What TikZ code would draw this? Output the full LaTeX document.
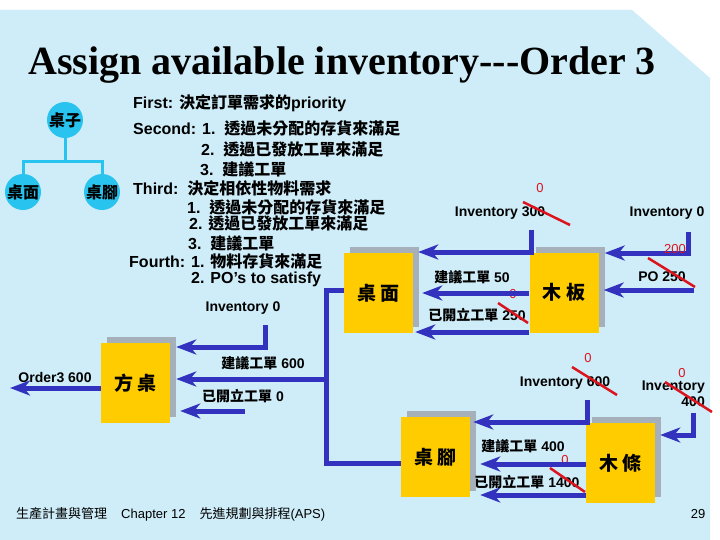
\documentclass[tikz,border=0pt]{standalone}
\usepackage{fontspec}
\setmainfont{Liberation Sans}
\newfontfamily\titlefont{Liberation Serif}
\newfontfamily\cjk{Noto Sans CJK TC}
\usetikzlibrary{arrows.meta,shadows}
\newcommand\zh[1]{{\cjk #1}}
\definecolor{bgblue}{RGB}{206,237,248}
\definecolor{boxyellow}{RGB}{255,204,0}
\definecolor{shadowgray}{RGB}{166,176,186}
\definecolor{flowblue}{RGB}{50,50,190}
\definecolor{strikered}{RGB}{220,20,30}
\definecolor{treecyan}{RGB}{40,195,238}
\tikzset{
  box/.style={fill=boxyellow, minimum width=69pt, minimum height=80pt, inner sep=0pt,
    general shadow={fill=shadowgray, shadow xshift=6pt, shadow yshift=6pt},
    font=\cjk\bfseries\fontsize{19}{19}\selectfont},
  flow/.style={draw=flowblue, line width=5pt, -{Stealth[length=20pt,width=15pt,inset=6pt]}},
  trunk/.style={draw=flowblue, line width=5pt},
  lbl/.style={font=\bfseries\fontsize{14}{16}\selectfont, inner sep=0pt},
  txt/.style={font=\bfseries\fontsize{16}{20}\selectfont, anchor=west, inner sep=0pt},
  redn/.style={text=strikered, font=\fontsize{13}{13}\selectfont, inner sep=0pt},
  strike/.style={draw=strikered, line width=2.5pt},
  treec/.style={circle, fill=treecyan, minimum size=36pt, inner sep=0pt,
    font=\cjk\bfseries\fontsize{16}{16}\selectfont},
  treel/.style={draw=treecyan, line width=3pt},
}
\begin{document}
\begin{tikzpicture}[x=1pt,y=-1pt]
\useasboundingbox (0,0) rectangle (720,540);
\fill[white] (0,0) rectangle (720,540);
\fill[bgblue] (0,10) -- (632,10) -- (710,78) -- (710,540) -- (0,540) -- cycle;

% title
\node[anchor=base west, inner sep=0pt, font=\titlefont\bfseries\fontsize{40}{40}\selectfont] (title) at (28,75) {Assign available inventory---Order 3};

% tree
\node[treec] (tz) at (65,120) {桌子};
\node[treec] (tm) at (23,192) {桌面};
\node[treec] (tj) at (102,192) {桌腳};
\coordinate (tb) at (65,162);
\draw[treel] (tz.south) -- (tb);
\draw[treel] (tm.north) -- (tm.north |- tb) -- (tj.north |- tb) -- (tj.north);

% text block
\node[txt] (t1) at (133,103) {First: \zh{決定訂單需求的}priority};
\node[txt] (t2) at (133,128) {Second: 1.\ \ \zh{透過未分配的存貨來滿足}};
\node[txt] (t3) at (201,149) {2.\ \ \zh{透過已發放工單來滿足}};
\node[txt] (t4) at (200,169) {3.\ \ \zh{建議工單}};
\node[txt] (t5) at (133,188) {Third:\ \ \zh{決定相依性物料需求}};
\node[txt] (t6) at (187,207) {1.\ \ \zh{透過未分配的存貨來滿足}};
\node[txt] (t7) at (189,223) {2. \zh{透過已發放工單來滿足}};
\node[txt] (t8) at (188,243) {3.\ \ \zh{建議工單}};
\node[txt] (t9) at (129,261) {Fourth: 1. \zh{物料存貨來滿足}};
\node[txt] (t10) at (191,279) {2. PO’s to satisfy};

% boxes
\node[box] (fz) at (135.5,383) {方 桌};
\node[box] (zm) at (378.5,293) {桌 面};
\node[box] (mb) at (564,292.5) {木 板};
\node[box] (zj) at (435.5,457) {桌 腳};
\node[box] (mt) at (620.5,463) {木 條};

% red numbers hidden partly under arrows
\node[redn] (r3) at (513,294) {0};
\node[redn] (r6) at (565,460) {0};

% free ends
\coordinate (o3) at (10,388);
\coordinate (inv0) at (265,325);
\coordinate (tr1) at (326,290);
\coordinate (tr2) at (326,463);
\coordinate (a0) at (245,411);
\coordinate (i300) at (531,230);
\coordinate (i0r) at (688,232);
\coordinate (po) at (694,290);
\coordinate (i600) at (587,400);
\coordinate (i400) at (693,413);

% connectors
\draw[flow] (fz.west |- o3) -- (o3);
\draw[flow] (inv0) |- ([xshift=6pt]fz.east |- 0,347);
\draw[trunk] (zm.west |- tr1) -- (tr1) -- (tr2) -- (zj.west |- tr2);
\draw[flow] (tr1 |- 0,379) -- ([xshift=6pt]fz.east |- 0,379);
\draw[flow] (a0) -- ([xshift=10pt]fz.east |- a0);
\draw[flow] (i300) |- ([xshift=5pt]zm.east |- 0,252);
\draw[flow] (i0r) |- ([xshift=6pt]mb.east |- 0,253);
\draw[flow] (po) -- ([xshift=5pt]mb.east |- po);
\draw[flow] (mb.west |- 0,293) -- ([xshift=9pt]zm.east |- 0,293);
\draw[flow] (mb.west |- 0,332) -- ([xshift=2pt]zm.east |- 0,332);
\draw[flow] (i600) |- ([xshift=3pt]zj.east |- 0,422);
\draw[flow] (i400) |- ([xshift=5pt]mt.east |- 0,435);
\draw[flow] (mt.west |- 0,464) -- ([xshift=10pt]zj.east |- 0,464);
\draw[flow] (mt.west |- 0,495) -- ([xshift=10pt]zj.east |- 0,495);

% labels
\node[lbl] (lo3) at (55,378) {Order3 600};
\node[lbl] (linv0) at (243,308) {Inventory 0};
\node[lbl] (l600) at (263,363) {\zh{建議工單} 600};
\node[lbl] (lk0) at (243,396) {\zh{已開立工單} 0};
\node[lbl] (l300) at (500,213) {Inventory 300};
\node[lbl] (linv0r) at (667,213) {Inventory 0};
\node[lbl] (lpo) at (662,277) {PO 250};
\node[lbl] (l50) at (472,277) {\zh{建議工單} 50};
\node[lbl] (l250) at (477,315) {\zh{已開立工單} 250};
\node[lbl] (linv600) at (565,383) {Inventory 600};
\node[lbl, align=right, anchor=east] (linv400) at (705,394) {Inventory\\400};
\node[lbl] (l400) at (523,446) {\zh{建議工單} 400};
\node[lbl] (l1400) at (527,482) {\zh{已開立工單} 1400};

% red corrections
\node[redn] (r1) at (540,188) {0};
\node[redn] (r2) at (675,249) {200};
\node[redn] (r4) at (588,358) {0};
\node[redn] (r5) at (682,373) {0};
\draw[strike] (523,202) -- (570,225);
\draw[strike] (648,258) -- (695,287);
\draw[strike] (498,303) -- (528,323);
\draw[strike] (572,367) -- (617,395);
\draw[strike] (665,382) -- (712,412);
\draw[strike] (550,468) -- (585,492);

% footer
\node[anchor=west, inner sep=0pt, font=\fontsize{13}{13}\selectfont] (foot) at (16,514) {\zh{生產計畫與管理}\hspace{14pt}Chapter 12\hspace{14pt}\zh{先進規劃與排程}(APS)};
\node[inner sep=0pt, font=\fontsize{13}{13}\selectfont] (page) at (698,514) {29};
\end{tikzpicture}
\end{document}
